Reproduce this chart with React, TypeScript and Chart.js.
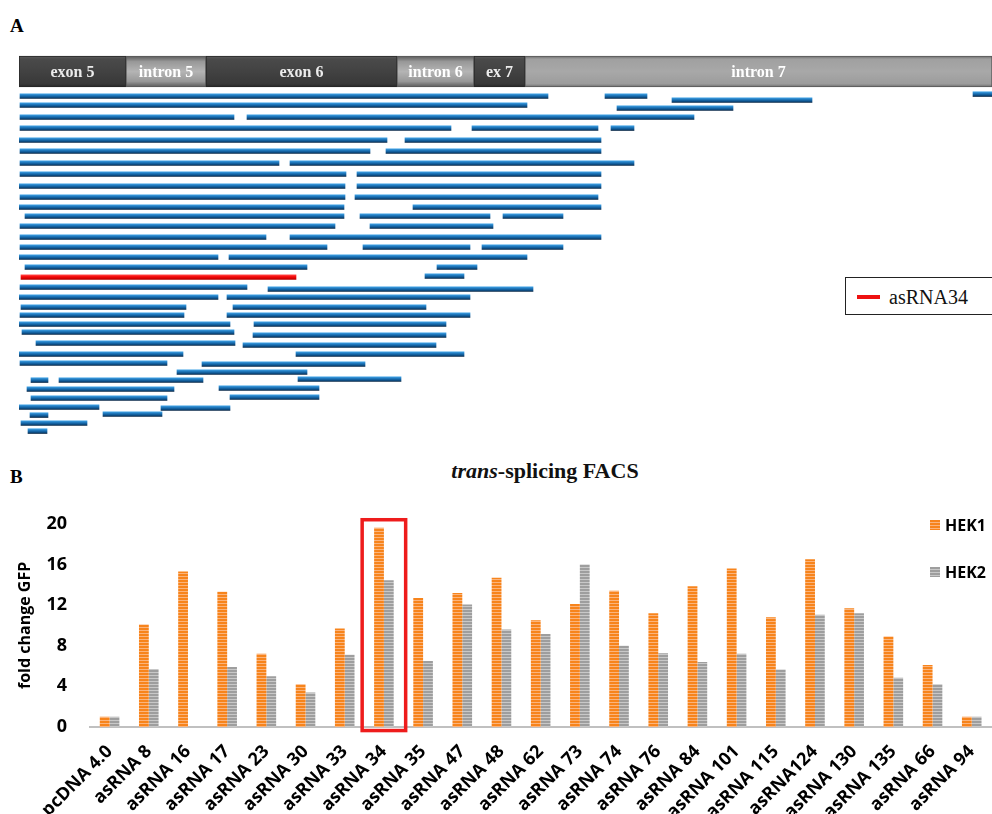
import React, { useEffect, useRef } from 'react';
import { Chart, registerables } from 'chart.js';

Chart.register(...registerables);

// ---------------- Panel A data ----------------
const geneFeatures = ['exon 5', 'intron 5', 'exon 6', 'intron 6', 'ex 7', 'intron 7'];
const featureKind = ['exon', 'intron', 'exon', 'intron', 'exon', 'intronLong'];
const featureStart = [0, 107, 187, 378, 455, 506];
const featureEnd = [107, 187, 378, 455, 506, 973];
const geneLane = 1.55;

const readStart = [
  1, 586, 954, 653, 1, 598, 1, 228, 1, 453, 592, 0, 386, 1, 367, 1, 271, 1, 338, 0,
  338, 1, 336, 0, 394, 6, 341, 484, 1, 351, 1, 271, 1, 344, 463, 0, 210, 6, 418, 406,
  1, 249, 0, 208, 2, 214, 1, 208, 0, 235, 3, 234, 17, 224, 0, 277, 1, 183, 158, 12,
  40, 279, 8, 200, 12, 211, 0, 142, 11, 84, 2, 9,
];
const readEnd = [
  529, 628, 973, 793, 508, 714, 215, 675, 432, 579, 615, 368, 582, 351, 582, 260, 615, 327, 582, 326,
  582, 326, 579, 325, 582, 325, 471, 544, 316, 474, 247, 582, 308, 451, 544, 199, 508, 288, 458, 445,
  228, 514, 199, 451, 167, 407, 165, 451, 211, 427, 215, 427, 216, 417, 164, 445, 148, 346, 288, 29,
  184, 382, 155, 300, 148, 300, 80, 211, 29, 143, 68, 28,
];
const readLane = [
  4.0, 4.0, 3.8, 4.4, 4.9, 5.2, 6.1, 6.1, 7.2, 7.2, 7.2, 8.4, 8.4, 9.5, 9.5, 10.7, 10.7, 11.8, 11.8, 13.0,
  13.0, 14.1, 14.1, 15.1, 15.1, 16.0, 16.0, 16.0, 17.0, 17.0, 18.1, 18.1, 19.1, 19.1, 19.1, 20.1, 20.1, 21.1, 21.1, 22.0,
  23.1, 23.3, 24.1, 24.1, 25.1, 25.1, 25.9, 25.9, 26.8, 26.8, 27.6, 27.9, 28.7, 28.9, 29.8, 29.8, 30.7, 30.8, 31.6, 32.4,
  32.4, 32.3, 33.3, 33.2, 34.2, 34.1, 35.1, 35.2, 35.9, 35.8, 36.7, 37.5,
];
const highlightName = 'asRNA34';
const highlightStart = [2];
const highlightEnd = [277];
const highlightLane = [22.1];

// ---------------- Panel B data ----------------
const categories = [
  'pcDNA 4.0', 'asRNA 8', 'asRNA 16', 'asRNA 17', 'asRNA 23', 'asRNA 30', 'asRNA 33', 'asRNA 34',
  'asRNA 35', 'asRNA 47', 'asRNA 48', 'asRNA 62', 'asRNA 73', 'asRNA 74', 'asRNA 76', 'asRNA 84',
  'asRNA 101', 'asRNA 115', 'asRNA124', 'asRNA 130', 'asRNA 135', 'asRNA 66', 'asRNA 94',
];
const hek1 = [1.0, 10.1, 15.3, 13.3, 7.2, 4.2, 9.7, 19.6, 12.7, 13.2, 14.7, 10.5, 12.1, 13.4, 11.2, 13.85, 15.6, 10.8, 16.5, 11.7, 8.9, 6.1, 1.0];
const hek2 = [1.0, 5.7, null, 5.9, 5.0, 3.4, 7.1, 14.45, 6.5, 12.05, 9.6, 9.15, 16.0, 8.0, 7.25, 6.4, 7.2, 5.65, 11.05, 11.2, 4.85, 4.2, 1.0];
const seriesNames = ['HEK1', 'HEK2'];
const yMin = 0;
const yMax = 20;
const yStep = 4;
const boxedCategory = 'asRNA 34';
const boxTop = 20.4;
const boxBottom = -0.35;

const SANS = '"Open Sans", "DejaVu Sans", sans-serif';
const SERIF = '"Liberation Serif", "DejaVu Serif", serif';

function laneGradient(c: any, stops: [number, string][], half: number, fallback: string) {
  const chart = c.chart;
  const raw = c.raw;
  if (!chart.chartArea || !raw || !chart.scales.y) return fallback;
  const yc = chart.scales.y.getPixelForValue(raw.y);
  const g = chart.ctx.createLinearGradient(0, yc - half, 0, yc + half);
  stops.forEach(([o, col]) => g.addColorStop(o, col));
  return g;
}

const blueStops: [number, string][] = [
  [0, '#7cc0ee'], [0.22, '#2a8ad0'], [0.55, '#1667a8'], [0.8, '#0d4a7e'], [1, '#08294a'],
];
const redStops: [number, string][] = [
  [0, '#ff8a8a'], [0.25, '#ff1a1a'], [0.7, '#e00000'], [1, '#b30000'],
];
const exonStops: [number, string][] = [
  [0, '#5e5e5e'], [0.1, '#4a4a4a'], [0.5, '#424242'], [0.9, '#383838'], [1, '#242424'],
];
const intronStops: [number, string][] = [
  [0, '#5a5a5a'], [0.18, '#989898'], [0.5, '#b4b4b4'], [0.82, '#989898'], [1, '#5a5a5a'],
];
const intronLongStops: [number, string][] = [
  [0, '#6c6c6c'], [0.1, '#a0a0a0'], [0.5, '#a8a8a8'], [0.9, '#9c9c9c'], [1, '#6c6c6c'],
];

const geneLabelPlugin = {
  id: 'geneLabels',
  afterDatasetsDraw(chart: any) {
    const meta = chart.getDatasetMeta(0);
    const ctx = chart.ctx;
    ctx.save();
    ctx.font = `bold 16px ${SERIF}`;
    ctx.textAlign = 'center';
    ctx.textBaseline = 'middle';
    meta.data.forEach((el: any, i: number) => {
      const p = el.getProps(['x', 'y', 'base'], true);
      ctx.fillStyle = featureKind[i] === 'exon' ? '#ececec' : '#ffffff';
      ctx.fillText(geneFeatures[i], (p.x + p.base) / 2, p.y + 1);
    });
    ctx.restore();
  },
};

const boxPlugin = {
  id: 'highlightBox',
  afterDatasetsDraw(chart: any) {
    const xs = chart.scales.x;
    const ys = chart.scales.y;
    const idx = categories.indexOf(boxedCategory);
    if (idx < 0) return;
    const cx = xs.getPixelForValue(idx);
    const half = (xs.getPixelForValue(1) - xs.getPixelForValue(0)) * 0.555;
    const top = ys.getPixelForValue(boxTop);
    const bottom = ys.getPixelForValue(boxBottom);
    const ctx = chart.ctx;
    ctx.save();
    ctx.strokeStyle = '#ee1c1c';
    ctx.lineWidth = 3.5;
    ctx.strokeRect(cx - half, top, half * 2, bottom - top);
    ctx.restore();
  },
};

function stripePattern(ctx: CanvasRenderingContext2D, a: string, b: string) {
  const c = document.createElement('canvas');
  c.width = 4;
  c.height = 3;
  const g = c.getContext('2d')!;
  g.fillStyle = a;
  g.fillRect(0, 0, 4, 2);
  g.fillStyle = b;
  g.fillRect(0, 2, 4, 1);
  return ctx.createPattern(c, 'repeat')!;
}

function buildA(canvas: HTMLCanvasElement) {
  return new Chart(canvas, {
    type: 'bar',
    data: {
      datasets: [
        {
          label: 'gene',
          data: featureStart.map((s, i) => ({ x: [s, featureEnd[i]], y: geneLane })) as any,
          barThickness: 31,
          stack: 'all',
          borderWidth: 1,
          borderSkipped: false,
          borderColor: (c: any) => (featureKind[c.dataIndex] === 'exon' ? '#262626' : '#5a5a5a'),
          backgroundColor: (c: any) => {
            const k = featureKind[c.dataIndex];
            const st = k === 'exon' ? exonStops : k === 'intron' ? intronStops : intronLongStops;
            return laneGradient(c, st, 15.5, '#444');
          },
        } as any,
        {
          label: 'reads',
          data: readStart.map((s, i) => ({ x: [s, readEnd[i]], y: readLane[i] })) as any,
          barThickness: 5,
          stack: 'all',
          borderWidth: 0,
          backgroundColor: (c: any) => laneGradient(c, blueStops, 2.5, '#1a6fb5'),
        } as any,
        {
          label: highlightName,
          data: highlightStart.map((s, i) => ({ x: [s, highlightEnd[i]], y: highlightLane[i] })) as any,
          barThickness: 5,
          stack: 'all',
          borderWidth: 0,
          backgroundColor: (c: any) => laneGradient(c, redStops, 2.5, '#ee0000'),
        } as any,
      ],
    },
    options: {
      indexAxis: 'y',
      animation: false,
      responsive: false,
      maintainAspectRatio: false,
      layout: { padding: 0 },
      scales: {
        x: { type: 'linear', min: 0, max: 973, display: false, stacked: false, offset: false },
        y: { type: 'linear', min: -0.6, max: 38.9, reverse: true, display: false, offset: false, grid: { offset: false } },
      },
      plugins: { legend: { display: false }, tooltip: { enabled: false } },
    } as any,
    plugins: [geneLabelPlugin],
  });
}

function buildB(canvas: HTMLCanvasElement) {
  const ctx = canvas.getContext('2d')!;
  const orange = stripePattern(ctx, '#f7841c', '#fbb47c');
  const gray = stripePattern(ctx, '#9e9e9e', '#c8c8c8');
  const xFont = { family: SANS, size: 18, weight: 'bold' as const };
  const yFont = { family: SANS, size: 18, weight: 'bold' as const };
  const titleFont = { family: SANS, size: 16, weight: 'bold' as const };
  return new Chart(canvas, {
    type: 'bar',
    data: {
      labels: categories,
      datasets: [
        { label: seriesNames[0], data: hek1, backgroundColor: orange, categoryPercentage: 0.5, barPercentage: 1 },
        { label: seriesNames[1], data: hek2 as any, backgroundColor: gray, categoryPercentage: 0.5, barPercentage: 1 },
      ],
    },
    options: {
      animation: false,
      responsive: false,
      maintainAspectRatio: false,
      layout: { padding: { top: 29, left: 0, right: 0, bottom: 0 } },
      scales: {
        x: {
          grid: { display: false, drawTicks: false },
          border: { display: true, color: '#c0c0c0', width: 2 },
          ticks: { autoSkip: false, maxRotation: 45, minRotation: 45, padding: 14, color: '#000', font: xFont },
          afterFit: (s: any) => { s.height = 87; },
        },
        y: {
          min: yMin,
          max: yMax,
          grid: { display: false, drawTicks: false },
          border: { display: false },
          ticks: { stepSize: yStep, padding: 23, color: '#000', font: yFont },
          title: { display: true, text: 'fold change GFP', color: '#000', font: titleFont, padding: { top: 16, bottom: 0 } },
          afterFit: (s: any) => { s.width = 90; },
        },
      },
      plugins: { legend: { display: false }, tooltip: { enabled: false } },
    } as any,
    plugins: [boxPlugin],
  });
}

export default function App() {
  const aRef = useRef<HTMLCanvasElement>(null);
  const bRef = useRef<HTMLCanvasElement>(null);

  useEffect(() => {
    const ca = buildA(aRef.current!);
    const cb = buildB(bRef.current!);
    return () => {
      ca.destroy();
      cb.destroy();
    };
  }, []);

  const swatch = (a: string, b: string, left: number, top: number): React.CSSProperties => ({
    position: 'absolute',
    left,
    top,
    width: 10,
    height: 10,
    background: `repeating-linear-gradient(to bottom, ${a} 0px, ${a} 2px, ${b} 2px, ${b} 3px)`,
  });

  return (
    <div style={{ position: 'absolute', left: 0, top: 0, width: 992, height: 814, overflow: 'hidden', background: '#fff' }}>
      <div style={{ position: 'absolute', left: 10, top: 16, font: `bold 19px/19px ${SERIF}`, color: '#000' }}>A</div>
      <canvas ref={aRef} width={973} height={395} style={{ position: 'absolute', left: 19, top: 50, display: 'block' }} />
      <div style={{ position: 'absolute', left: 845, top: 277, width: 200, height: 38, boxSizing: 'border-box', border: '1.5px solid #222', background: '#fff' }}>
        <div style={{ position: 'absolute', left: 11, top: 17, width: 23, height: 3.5, background: '#ee1111' }} />
        <div style={{ position: 'absolute', left: 43, top: 8.5, font: `20px/20px ${SERIF}`, color: '#111', whiteSpace: 'nowrap' }}>{highlightName}</div>
      </div>

      <div style={{ position: 'absolute', left: 10, top: 467, font: `bold 19px/19px ${SERIF}`, color: '#000' }}>B</div>
      <div style={{ position: 'absolute', left: 345, width: 400, top: 460, textAlign: 'center', font: `bold 22px/22px ${SERIF}`, color: '#111', whiteSpace: 'nowrap' }}>
        <i>trans</i>-splicing FACS
      </div>
      <canvas ref={bRef} width={1001} height={324} style={{ position: 'absolute', left: 0, top: 490, display: 'block' }} />
      <div style={swatch('#f7841c', '#fbb47c', 930, 520)} />
      <div style={{ position: 'absolute', left: 945, top: 517, font: `bold 16px/16px ${SANS}`, color: '#000' }}>{seriesNames[0]}</div>
      <div style={swatch('#9e9e9e', '#c8c8c8', 930, 567)} />
      <div style={{ position: 'absolute', left: 945, top: 564, font: `bold 16px/16px ${SANS}`, color: '#000' }}>{seriesNames[1]}</div>
    </div>
  );
}
